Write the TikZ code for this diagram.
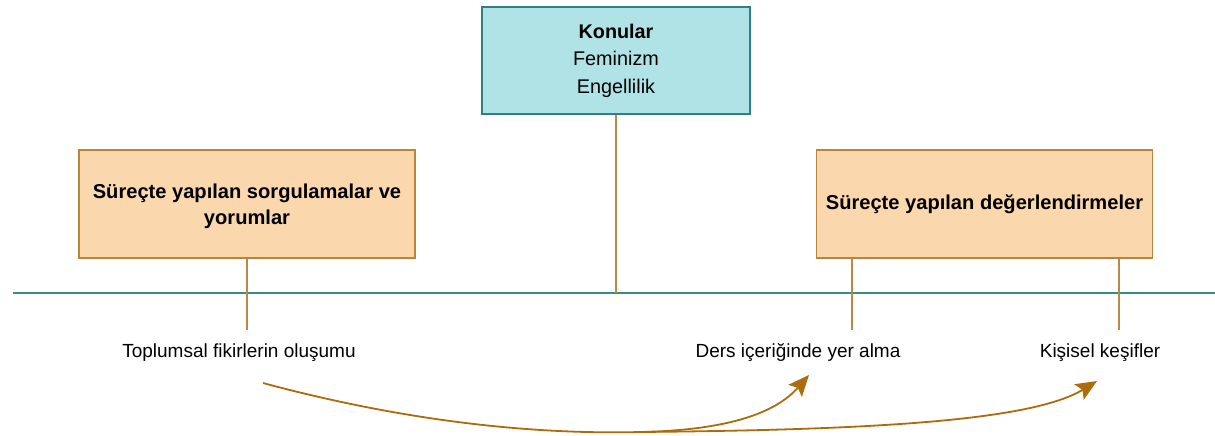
\documentclass[tikz,border=0pt]{standalone}
\usepackage{fontspec}
\setmainfont{Liberation Sans}
\usetikzlibrary{arrows.meta}
\definecolor{tealfill}{HTML}{B0E3E6}
\definecolor{tealdraw}{HTML}{2E7F86}
\definecolor{orfill}{HTML}{FAD7AC}
\definecolor{ordraw}{HTML}{B9843C}
\definecolor{axis}{HTML}{3A8C8C}
\definecolor{stem}{HTML}{BC8845}
\definecolor{curve}{HTML}{AC6C0C}
\tikzset{
  topbox/.style={draw=tealdraw, fill=tealfill, line width=1.6pt, minimum width=268pt, minimum height=107pt, inner sep=0pt, align=center, font=\fontsize{19.8}{27.5}\selectfont},
  orbox/.style={draw=ordraw, fill=orfill, line width=1.4pt, minimum width=336pt, minimum height=108pt, inner sep=0pt, align=center, font=\fontsize{20.1}{26}\selectfont\bfseries},
  boxtext/.style={inner sep=0pt, align=center, font=\fontsize{20.1}{26}\selectfont\bfseries},
  lbl/.style={inner sep=0pt, font=\fontsize{19}{22}\selectfont},
  stemline/.style={draw=stem, line width=1.3pt},
  flow/.style={draw=curve, line width=1.8pt},
  flowarrow/.style={flow, -{Stealth[length=21pt,width=18pt,inset=4pt]}}
}
\begin{document}
\begin{tikzpicture}[x=1pt,y=-1pt]
\useasboundingbox (0,0) rectangle (1215,436);
\node[topbox] (konu) at (616,60.5) {\textbf{Konular}\\Feminizm\\Engellilik};
\node[orbox] (sorg) at (247,204) {};
\node[boxtext] (sorgtxt) at (247,206) {Süreçte yapılan sorgulamalar ve\\yorumlar};
\node[orbox] (deger) at (984.5,204) {Süreçte yapılan değerlendirmeler};
\coordinate (axL) at (13,293);
\coordinate (axR) at (1215,293);
\draw[draw=axis, line width=1.6pt] (axL) -- (axR);
\coordinate (s1) at (247,330);
\coordinate (s2) at (852,330);
\coordinate (s3) at (1119,330);
\coordinate (s0) at (616,293);
\draw[stemline] (konu.south) -- (s0);
\draw[stemline] (sorg.south) -- (s1);
\draw[stemline] (deger.south -| s2) -- (s2);
\draw[stemline] (deger.south -| s3) -- (s3);
\node[lbl] (top) at (239,353) {Toplumsal fikirlerin oluşumu};
\node[lbl] (ders) at (798,353) {Ders içeriğinde yer alma};
\node[lbl] (kis) at (1100,353) {Kişisel keşifler};
\coordinate (c0) at (263,383);
\coordinate (cm) at (640,432);
\coordinate (t1) at (809,375);
\coordinate (t2) at (1097,381);
\draw[flowarrow] (c0) .. controls (430,428) and (560,434) .. (cm) .. controls (740,430) and (780,408) .. (t1);
\draw[flowarrow] (cm) .. controls (860,430) and (1030,422) .. (t2);
\end{tikzpicture}
\end{document}
